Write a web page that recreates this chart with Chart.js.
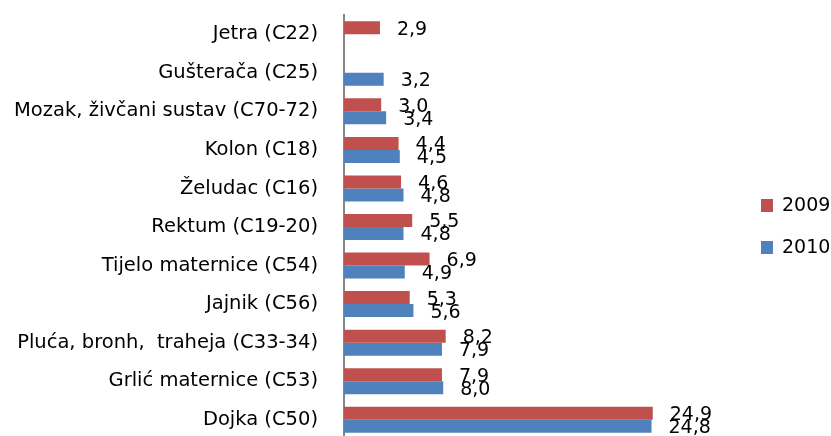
<!DOCTYPE html>
<html>
<head>
<meta charset="utf-8">
<script src="https://cdn.jsdelivr.net/npm/chart.js@4"></script>
<style>
  html, body { margin: 0; padding: 0; background: #fff; overflow: hidden; }
  #wrap { width: 831px; height: 440px; }
</style>
</head>
<body>
<div id="wrap"><canvas id="chart" width="831" height="440"></canvas></div>
<script>
const categories = [
  "Jetra (C22)",
  "Gušterača (C25)",
  "Mozak, živčani sustav (C70-72)",
  "Kolon (C18)",
  "Želudac (C16)",
  "Rektum (C19-20)",
  "Tijelo maternice (C54)",
  "Jajnik (C56)",
  "Pluća, bronh,  traheja (C33-34)",
  "Grlić maternice (C53)",
  "Dojka (C50)",
];
const seriesNames = ["2009", "2010"];
const values2009 = [2.9, null, 3.0, 4.4, 4.6, 5.5, 6.9, 5.3, 8.2, 7.9, 24.9];
const values2010 = [null, 3.2, 3.4, 4.5, 4.8, 4.8, 4.9, 5.6, 7.9, 8.0, 24.8];

const FONT = "'DejaVu Sans', sans-serif";
const colors = ["#C0504D", "#4F81BD"];

// value labels next to bar ends, with decimal comma
const valueLabels = {
  id: "valueLabels",
  afterDatasetsDraw(chart) {
    const ctx = chart.ctx;
    ctx.save();
    ctx.font = "19px " + FONT;
    ctx.fillStyle = "#000";
    ctx.textBaseline = "middle";
    ctx.textAlign = "left";
    chart.data.datasets.forEach((ds, i) => {
      chart.getDatasetMeta(i).data.forEach((bar, j) => {
        const v = ds.data[j];
        if (v == null) return;
        ctx.fillText(v.toFixed(1).replace(".", ","), bar.x + 17, bar.y + 2);
      });
    });
    ctx.restore();
  },
};

// legend on the right
const sideLegend = {
  id: "sideLegend",
  afterDraw(chart) {
    const ctx = chart.ctx;
    ctx.save();
    ctx.font = "19px " + FONT;
    ctx.textBaseline = "middle";
    chart.data.datasets.forEach((ds, i) => {
      const y = 199 + i * 42;
      ctx.fillStyle = ds.backgroundColor;
      ctx.fillRect(761, y, 12, 13);
      ctx.fillStyle = "#000";
      ctx.fillText(ds.label, 782, y + 7);
    });
    ctx.restore();
  },
};

new Chart(document.getElementById("chart"), {
  type: "bar",
  data: {
    labels: categories,
    datasets: [
      { label: seriesNames[0], data: values2009, backgroundColor: colors[0] },
      { label: seriesNames[1], data: values2010, backgroundColor: colors[1] },
    ],
  },
  options: {
    indexAxis: "y",
    responsive: false,
    animation: false,
    categoryPercentage: 0.674,
    barPercentage: 1,
    layout: { padding: { left: 0, right: 115, top: 15, bottom: 1 } },
    plugins: {
      legend: { display: false },
      tooltip: { enabled: false },
    },
    scales: {
      x: { display: false, min: 0, max: 30 },
      y: {
        grid: { display: false, drawTicks: false },
        border: { display: true, color: "#868686", width: 2 },
        ticks: {
          color: "#000",
          padding: 26,
          font: { family: FONT, size: 19.5 },
        },
        afterFit(scale) {
          scale.width = 344;
          // no extra room above/below for the first and last labels
          scale.paddingTop = 0;
          scale.paddingBottom = 0;
        },
      },
    },
  },
  plugins: [valueLabels, sideLegend],
});
</script>
</body>
</html>
